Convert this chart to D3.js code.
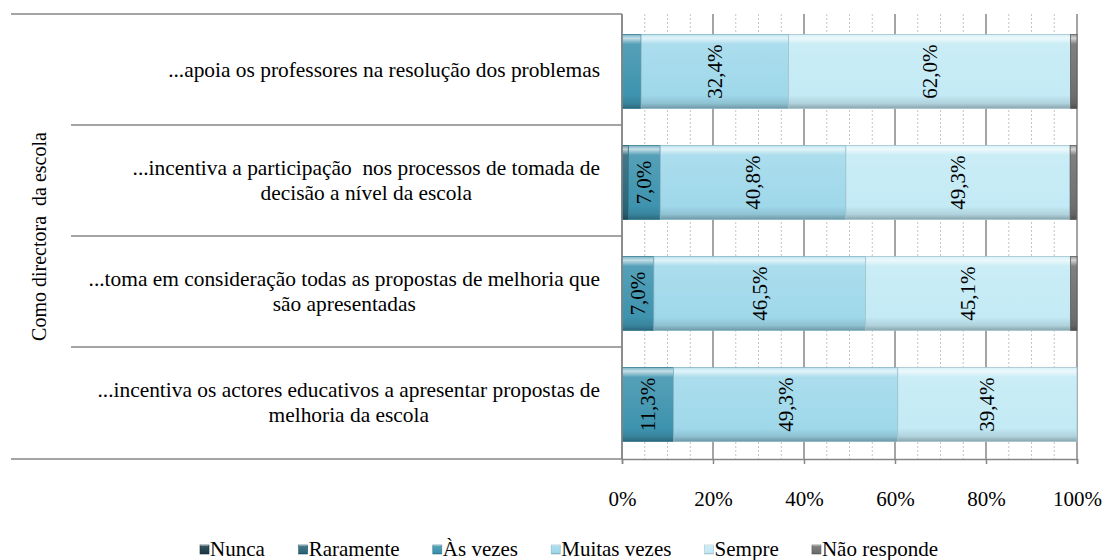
<!DOCTYPE html>
<html>
<head>
<meta charset="utf-8">
<script src="https://cdn.jsdelivr.net/npm/d3@7"></script>
<style>
  body { margin: 0; background: #fff; }
  text { white-space: pre; fill: #000; }
</style>
</head>
<body>
<div id="grafico"></div>
<script>
// categorias (de cima para baixo)
var categorias = [
    ["...apoia os professores na resolução dos problemas"],
    ["...incentiva a participação  nos processos de tomada de", "decisão a nível da escola"],
    ["...toma em consideração todas as propostas de melhoria que", "são apresentadas"],
    ["...incentiva os actores educativos a apresentar propostas de", "melhoria da escola"]
];
var series = ["Nunca", "Raramente", "Às vezes", "Muitas vezes", "Sempre", "Não responde"];
var nunca       = [0, 0, 0, 0];
var raramente   = [0, 1.4, 0, 0];
var asVezes     = [4.2, 7.0, 7.0, 11.3];
var muitasVezes = [32.4, 40.8, 46.5, 49.3];
var sempre      = [62.0, 49.3, 45.1, 39.4];
var naoResponde = [1.4, 1.4, 1.4, 0];
var ticks = [0, 20, 40, 60, 80, 100];
var tituloY = "Como directora  da escola";

var cores = ["#1d3c48", "#2b6678", "#3e93ae", "#9fd8ea", "#c3eaf5", "#6f6f6f"];
var fonte = '"Liberation Serif", "Times New Roman", serif';

var W = 1103, H = 560;
var svg = d3.select("#grafico").append("svg").attr("width", W).attr("height", H);

var x = d3.scaleLinear().domain([0, 100]).range([622, 1077]);
var y = d3.scaleBand().domain(d3.range(categorias.length)).range([14, 458]).padding(0);

var linhas = [nunca, raramente, asVezes, muitasVezes, sempre, naoResponde];
var dados = categorias.map(function (c, i) {
    var o = {i: i};
    series.forEach(function (s, k) { o[s] = linhas[k][i]; });
    return o;
});
var stack = d3.stack().keys(series)(dados);

// gradientes tipo "bisel"
var defs = svg.append("defs");
cores.forEach(function (c, k) {
    var g = defs.append("linearGradient").attr("id", "grad" + k)
        .attr("x1", 0).attr("y1", 0).attr("x2", 0).attr("y2", 1);
    var claro = d3.interpolateRgb(c, "#fff");
    var escuro = d3.interpolateRgb(c, "#000");
    g.append("stop").attr("offset", "0%").attr("stop-color", claro(0.3));
    g.append("stop").attr("offset", "5%").attr("stop-color", claro(0.7));
    g.append("stop").attr("offset", "13%").attr("stop-color", claro(0.12));
    g.append("stop").attr("offset", "82%").attr("stop-color", c);
    g.append("stop").attr("offset", "93%").attr("stop-color", escuro(0.1));
    g.append("stop").attr("offset", "100%").attr("stop-color", escuro(0.3));
});

// grelha
var minor = d3.range(0, 101, 5).filter(function (v) { return v % 20 !== 0; });
svg.append("g").selectAll("line").data(minor).enter().append("line")
    .attr("x1", function (d) { return x(d); }).attr("x2", function (d) { return x(d); })
    .attr("y1", 14).attr("y2", 459)
    .attr("stroke", "#c4c4c4").attr("stroke-width", 1).attr("stroke-dasharray", "2,2");
svg.append("g").selectAll("line").data(ticks).enter().append("line")
    .attr("x1", function (d) { return x(d); }).attr("x2", function (d) { return x(d); })
    .attr("y1", 14).attr("y2", 459)
    .attr("stroke", "#868686").attr("stroke-width", 1.5);

// barras
var bh = 74;
var camadas = svg.append("g").selectAll("g").data(stack).enter().append("g")
    .attr("fill", function (d, k) { return "url(#grad" + k + ")"; })
    .attr("stroke", function (d, k) { return d3.color(cores[k]).darker(0.5); })
    .attr("stroke-width", 0.8);
camadas.selectAll("rect").data(function (d) { return d; }).enter().append("rect")
    .filter(function (d) { return d[1] - d[0] > 0; })
    .attr("x", function (d) { return x(d[0]); })
    .attr("y", function (d) { return y(d.data.i) + 20.5; })
    .attr("width", function (d) { return x(d[1]) - x(d[0]); })
    .attr("height", bh);

// rótulos de percentagem
stack.forEach(function (s) {
    s.forEach(function (d) {
        var v = d[1] - d[0];
        if (v < 5) return;
        var cx = (x(d[0]) + x(d[1])) / 2;
        var cy = y(d.data.i) + 20.5 + bh / 2;
        svg.append("text")
            .attr("transform", "translate(" + (cx + 7) + "," + cy + ") rotate(-90)")
            .attr("text-anchor", "middle")
            .style("font-family", fonte)
            .style("font-size", "21px")
            .text(d3.format(".1f")(v).replace(".", ",") + "%");
    });
});

// eixo das categorias (linhas à esquerda)
var sep = y.domain().map(function (i) { return y(i); }).concat([459]);
svg.append("g").selectAll("line").data(sep).enter().append("line")
    .attr("x1", function (d, i) { return (i === 0 || i === sep.length - 1) ? 11 : 71; })
    .attr("x2", 622)
    .attr("y1", function (d) { return d; }).attr("y2", function (d) { return d; })
    .attr("stroke", "#868686").attr("stroke-width", 1.5);
svg.append("line").attr("x1", 622).attr("x2", 622).attr("y1", 14).attr("y2", 459)
    .attr("stroke", "#868686").attr("stroke-width", 1.5);

// rótulos das categorias
categorias.forEach(function (linhasTxt, i) {
    var g = svg.append("g");
    var lh = 25;
    var cy = y(i) + y.bandwidth() / 2;
    var t = g.selectAll("text").data(linhasTxt).enter().append("text")
        .attr("text-anchor", "middle")
        .style("font-family", fonte)
        .style("font-size", "21.4px")
        .attr("y", function (d, k) { return cy + (k - (linhasTxt.length - 1) / 2) * lh + 7; })
        .text(function (d) { return d; });
    var maxW = d3.max(t.nodes(), function (n) { return n.getComputedTextLength(); });
    t.attr("x", 600 - maxW / 2);
});

// título do eixo
svg.append("text")
    .attr("transform", "translate(46," + ((14 + 459) / 2) + ") rotate(-90)")
    .attr("text-anchor", "middle")
    .style("font-family", fonte)
    .style("font-size", "20px")
    .text(tituloY);

// eixo x
var eixo = svg.append("g").attr("transform", "translate(0,459)")
    .call(d3.axisBottom(x).tickValues(ticks).tickSize(5).tickPadding(27)
        .tickFormat(function (d) { return d + "%"; }));
eixo.select(".domain").attr("stroke", "#868686").attr("stroke-width", 1.5);
eixo.selectAll(".tick line").attr("stroke", "#868686").attr("stroke-width", 1.5);
eixo.selectAll("text").style("font-size", "21px").style("font-family", fonte);

// legenda
var leg = svg.append("g");
var itens = leg.selectAll("g").data(series).enter().append("g");
itens.append("rect").attr("width", 9).attr("height", 9).attr("y", -11)
    .attr("fill", function (d, k) { return "url(#grad" + k + ")"; })
    .attr("stroke", function (d, k) { return d3.color(cores[k]).darker(0.5); })
    .attr("stroke-width", 0.6);
itens.append("text").attr("x", 10)
    .style("font-family", fonte).style("font-size", "21px")
    .text(function (d) { return d; });
var larg = itens.nodes().map(function (n) { return n.getBBox().width; });
var total = d3.sum(larg);
var gap = (938 - 200 - total) / (series.length - 1);
var px = 200;
itens.attr("transform", function (d, k) {
    var t = "translate(" + px + ",556)";
    px += larg[k] + gap;
    return t;
});
</script>
</body>
</html>
